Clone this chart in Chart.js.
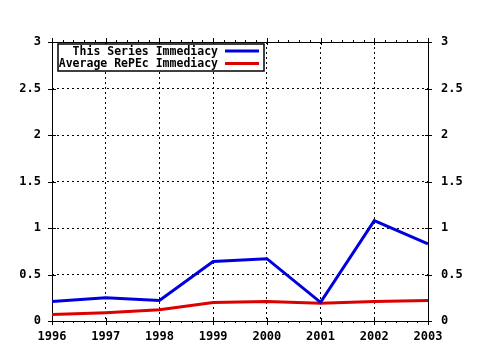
<!DOCTYPE html>
<html>
<head>
<meta charset="utf-8">
<script src="https://cdn.jsdelivr.net/npm/chart.js@4.4.0/dist/chart.umd.min.js"></script>
<style>
  body { margin: 0; background: #fff; }
  canvas { display: block; }
</style>
</head>
<body>
<canvas id="immediacy" width="480" height="350"></canvas>
<script>
// Immediacy chart data
const years = [1996, 1997, 1998, 1999, 2000, 2001, 2002, 2003];
const seriesImmediacy = [0.21, 0.25, 0.22, 0.64, 0.67, 0.20, 1.08, 0.83];
const repecImmediacy = [0.07, 0.09, 0.12, 0.20, 0.21, 0.19, 0.21, 0.22];
const seriesLabels = ['This Series Immediacy', 'Average RePEc Immediacy'];
const yTicks = [0, 0.5, 1, 1.5, 2, 2.5, 3];

const BLUE = '#0000dd';
const RED = '#dd0000';
const MONO = '"DejaVu Sans Mono", "Liberation Mono", monospace';

Chart.defaults.font.family = MONO;
Chart.defaults.color = '#000';

function toPoints(vals) {
    return years.map((y, i) => ({ x: y, y: vals[i] }));
}

// frame, tick marks and minor ticks (gnuplot style)
const framePlugin = {
    id: 'frame',
    beforeDatasetsDraw(chart) {
        const ctx = chart.ctx;
        const a = chart.chartArea;
        const xs = chart.scales.x;
        const ys = chart.scales.y;
        ctx.save();
        ctx.strokeStyle = '#000';
        ctx.lineWidth = 1;
        ctx.beginPath();
        ctx.rect(Math.round(a.left) + 0.5, Math.round(a.top) + 0.5,
            Math.round(a.right - a.left), Math.round(a.bottom - a.top));
        // major x ticks
        years.forEach(yr => {
            const px = Math.round(xs.getPixelForValue(yr)) + 0.5;
            ctx.moveTo(px, a.bottom - 3); ctx.lineTo(px, a.bottom + 4);
            ctx.moveTo(px, a.top - 4); ctx.lineTo(px, a.top + 3);
            if (yr < years[years.length - 1]) {
                for (let k = 1; k < 5; k++) {
                    const mx = Math.round(xs.getPixelForValue(yr + k / 5)) + 0.5;
                    ctx.moveTo(mx, a.bottom); ctx.lineTo(mx, a.bottom + 2);
                    ctx.moveTo(mx, a.top); ctx.lineTo(mx, a.top - 2);
                }
            }
        });
        // y ticks on both sides
        yTicks.forEach(v => {
            const py = Math.round(ys.getPixelForValue(v)) + 0.5;
            ctx.moveTo(a.left - 4, py); ctx.lineTo(a.left + 4, py);
            ctx.moveTo(a.right - 3, py); ctx.lineTo(a.right + 4, py);
        });
        ctx.stroke();
        ctx.restore();
    },
    afterDraw(chart) {
        const ctx = chart.ctx;
        const box = { x: 58, y: 44, w: 206, h: 27 };
        ctx.save();
        ctx.fillStyle = '#fff';
        ctx.fillRect(box.x, box.y, box.w, box.h);
        ctx.strokeStyle = '#000';
        ctx.lineWidth = 1.5;
        ctx.strokeRect(box.x, box.y, box.w, box.h);
        ctx.font = 'bold 11.5px ' + MONO;
        ctx.textAlign = 'right';
        ctx.textBaseline = 'middle';
        chart.data.datasets.forEach((ds, i) => {
            const ly = 51 + i * 12.5;
            ctx.fillStyle = '#000';
            ctx.fillText(ds.label, 218, ly + 1);
            ctx.strokeStyle = ds.borderColor;
            ctx.lineWidth = 3;
            ctx.beginPath();
            ctx.moveTo(225, ly); ctx.lineTo(259, ly);
            ctx.stroke();
        });
        ctx.restore();
    }
};

const yAxisBase = {
    min: 0,
    max: 3,
    border: { display: false },
    afterBuildTicks: scale => { scale.ticks = yTicks.map(v => ({ value: v })); },
    ticks: {
        font: { size: 12, weight: 'bold' },
        callback: v => String(v)
    }
};

new Chart(document.getElementById('immediacy'), {
    type: 'line',
    data: {
        datasets: [
            {
                label: seriesLabels[0],
                data: toPoints(seriesImmediacy),
                borderColor: BLUE,
                borderWidth: 3,
                pointRadius: 0,
                tension: 0
            },
            {
                label: seriesLabels[1],
                data: toPoints(repecImmediacy),
                borderColor: RED,
                borderWidth: 3,
                pointRadius: 0,
                tension: 0
            }
        ]
    },
    options: {
        responsive: false,
        animation: false,
        layout: { padding: { top: 42, left: 0, right: 0, bottom: 0 } },
        plugins: {
            legend: { display: false },
            tooltip: { enabled: false }
        },
        scales: {
            x: {
                type: 'linear',
                min: years[0],
                max: years[years.length - 1],
                border: { display: false, dash: [2, 3] },
                grid: { color: '#000', drawTicks: false },
                afterBuildTicks: scale => { scale.ticks = years.map(v => ({ value: v })); },
                afterFit: scale => { scale.height = 29; },
                ticks: {
                    font: { size: 12, weight: 'bold' },
                    padding: 9,
                    maxRotation: 0,
                    callback: v => String(v)
                }
            },
            y: Object.assign({}, yAxisBase, {
                position: 'left',
                border: { display: false, dash: [2, 3] },
                grid: { color: '#000', drawTicks: false },
                afterFit: scale => { scale.width = 52; },
                ticks: Object.assign({}, yAxisBase.ticks, { padding: 11 })
            }),
            y2: Object.assign({}, yAxisBase, {
                position: 'right',
                grid: { display: false, drawTicks: false },
                afterFit: scale => { scale.width = 52; },
                ticks: Object.assign({}, yAxisBase.ticks, { padding: 13 })
            })
        }
    },
    plugins: [framePlugin]
});
</script>
</body>
</html>
